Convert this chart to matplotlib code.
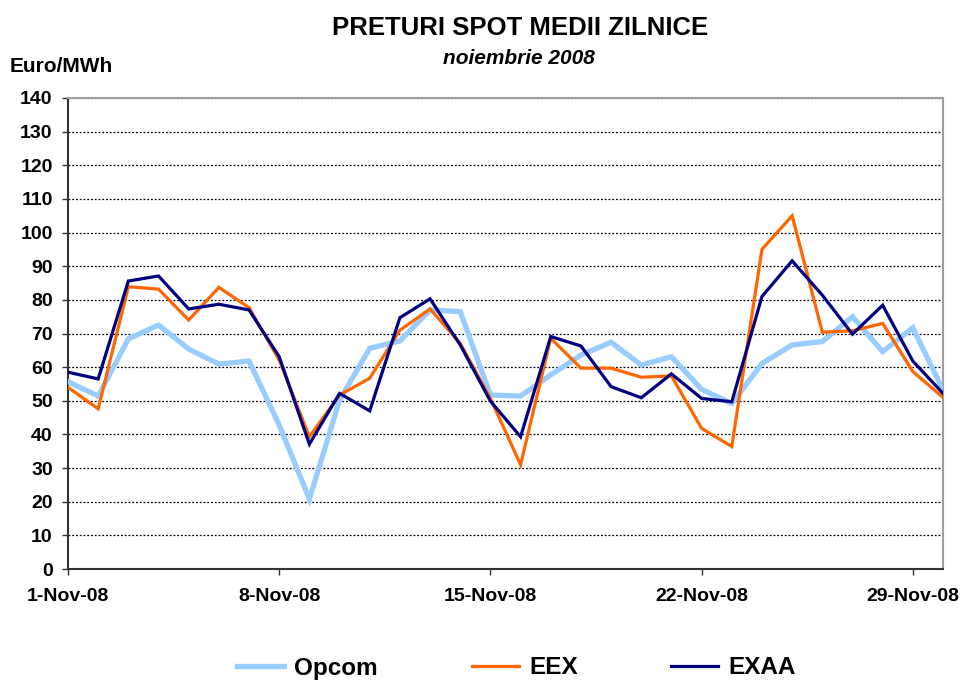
import matplotlib
matplotlib.use("Agg")
import matplotlib.pyplot as plt

days = list(range(1, 31))
opcom = [55.7, 51.4, 68.4, 72.5, 65.4, 60.9, 61.8, 42.8, 20.8, 50.2,
         65.6, 67.8, 77.0, 76.5, 51.7, 51.4, 57.7, 63.6, 67.4, 60.6,
         63.1, 53.4, 49.2, 61.1, 66.6, 67.6, 75.0, 64.6, 71.7, 53.2]
eex = [54.0, 47.6, 83.9, 83.2, 74.0, 83.7, 77.7, 62.1, 39.3, 51.7,
       56.7, 71.0, 77.3, 67.1, 50.7, 31.0, 68.6, 59.7, 59.7, 57.0,
       57.4, 41.8, 36.4, 95.0, 105.0, 70.4, 70.8, 73.0, 58.7, 51.0]
exaa = [58.5, 56.5, 85.6, 87.1, 77.3, 78.7, 77.0, 63.1, 37.1, 52.2,
        47.0, 74.7, 80.3, 66.6, 49.9, 39.3, 69.1, 66.3, 54.2, 50.9,
        58.0, 50.7, 49.7, 81.0, 91.6, 81.4, 69.8, 78.4, 61.8, 52.2]
xtick_days = [1, 8, 15, 22, 29]
xtick_labels = ["1-Nov-08", "8-Nov-08", "15-Nov-08", "22-Nov-08", "29-Nov-08"]
yticks = list(range(0, 141, 10))

plt.rcParams['font.family'] = ['Liberation Sans', 'DejaVu Sans']
plt.rcParams['font.weight'] = 'bold'

fig = plt.figure(figsize=(9.62, 6.82), dpi=100)
ax = fig.add_axes([68/962, 1-569/682, (943-68)/962, (569-98)/682])

l1, = ax.plot(days, opcom, color='#99CCFF', lw=3.8, label='Opcom', solid_joinstyle='miter', zorder=3)
l2, = ax.plot(days, eex, color='#FF6600', lw=2.3, label='EEX', solid_joinstyle='miter', zorder=4)
l3, = ax.plot(days, exaa, color='#000080', lw=2.3, label='EXAA', solid_joinstyle='miter', zorder=5)

ax.set_xlim(1, 30)
ax.set_ylim(0, 140)
ax.set_yticks(yticks)
ax.set_yticklabels([str(v) for v in yticks], fontsize=14, fontweight='bold')
ax.set_xticks(xtick_days)
ax.set_xticklabels(xtick_labels, fontsize=14, fontweight='bold')
ax.tick_params(axis='both', direction='out', length=4, width=1, color='#333333')
ax.tick_params(axis='x', pad=10)
ax.tick_params(axis='y', pad=7)

ax.grid(axis='y', linestyle=(0, (1.5, 1.5)), color='black', linewidth=0.9)
ax.set_axisbelow(True)
for s in ['left', 'bottom']:
    ax.spines[s].set_color('#333333')
    ax.spines[s].set_linewidth(1.5)
for s in ['top', 'right']:
    ax.spines[s].set_color('#A0A0A0')
    ax.spines[s].set_linewidth(1.5)

fig.text(520/962, 1-28/682, "PRETURI SPOT MEDII ZILNICE", ha='center', va='center',
         fontsize=18.5, fontweight='bold')
fig.text(519/962, 1-58/682, "noiembrie 2008", ha='center', va='center',
         fontsize=15, fontweight='bold', style='italic')
fig.text(10/962, 1-67/682, "Euro/MWh", ha='left', va='center', fontsize=15, fontweight='bold')

for line, x0 in zip([l1, l2, l3], [237, 472, 671]):
    leg = fig.legend(handles=[line], loc='center left',
                     bbox_to_anchor=(x0/962, 1-668/682), frameon=False,
                     fontsize=17.5, handlelength=1.95, handletextpad=0.4,
                     borderpad=0, borderaxespad=0)
    for t in leg.get_texts():
        t.set_fontweight('bold')

fig.savefig('out.png', dpi=100)
